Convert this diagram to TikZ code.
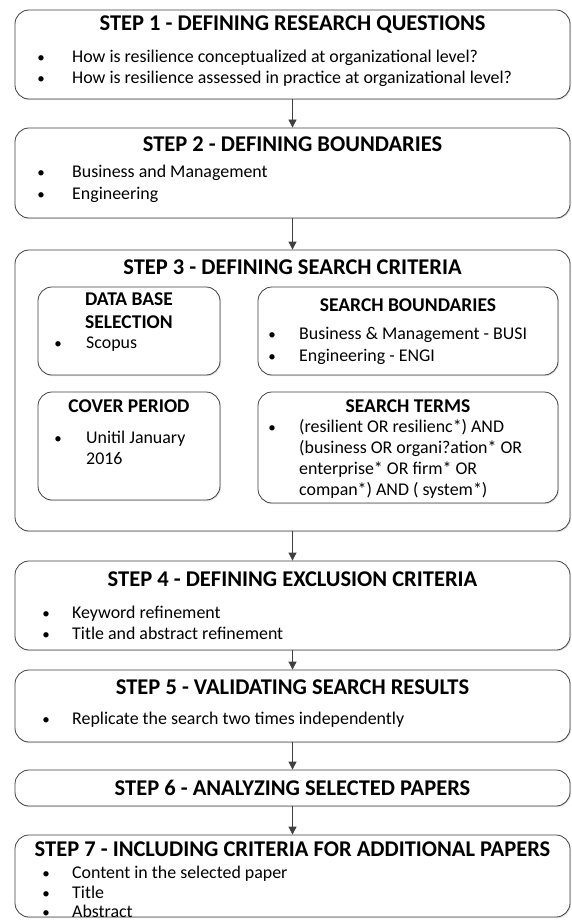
\documentclass[tikz,border=0pt]{standalone}
\usepackage{fontspec}
\setmainfont{Carlito}
\usetikzlibrary{arrows.meta,shadows}

\tikzset{
  stepbox/.style={draw=black!75, line width=0.8pt, rounded corners=14pt, fill=white,
    drop shadow={shadow xshift=1pt, shadow yshift=-1.2pt, opacity=0.25, fill=black!45},
    inner sep=0pt, minimum width=555pt},
  subbox/.style={stepbox},
  steptitle/.style={font=\fontsize{22.5}{26}\selectfont\bfseries, inner sep=0pt, anchor=base},
  subtitle/.style={font=\fontsize{19.5}{22}\selectfont\bfseries, inner sep=0pt, anchor=base},
  item/.style={font=\fontsize{17.9}{21}\selectfont, inner sep=0pt, anchor=base west},
  dot/.style={font=\fontsize{15}{18}\selectfont, inner sep=0pt, anchor=base},
  flow/.style={-{Triangle[length=8pt,width=8pt]}, draw=black!75, line width=0.8pt},
}

\begin{document}
\begin{tikzpicture}[x=1pt,y=-1pt]
  \useasboundingbox (0,0) rectangle (571,920);

  % boxes
  \node[stepbox, minimum height=89pt] (s1) at (292.5,54.5) {};
  \node[stepbox, minimum height=90pt] (s2) at (292.5,173) {};
  \node[stepbox, minimum height=281pt] (s3) at (292.5,390.5) {};
  \node[subbox, minimum width=182pt, minimum height=88pt] (db) at (129,331) {};
  \node[subbox, minimum width=300pt, minimum height=88pt] (sb) at (408,331) {};
  \node[subbox, minimum width=182pt, minimum height=108pt] (cp) at (129,446) {};
  \node[subbox, minimum width=300pt, minimum height=111pt] (st) at (408,447.5) {};
  \node[stepbox, minimum height=89pt] (s4) at (292.5,605.5) {};
  \node[stepbox, minimum height=72pt] (s5) at (292.5,706) {};
  \node[stepbox, minimum height=36pt] (s6) at (292.5,788) {};
  \node[stepbox, minimum height=82pt] (s7) at (292.5,876) {};

  % step 1
  \node[steptitle] (t1) at (292.5,31) {STEP 1 - DEFINING RESEARCH QUESTIONS};
  \node[dot] (d11) at (41,63) {\textbullet};
  \node[item] (i11) at (72,63) {How is resilience conceptualized at organizational level?};
  \node[dot] (d12) at (41,84) {\textbullet};
  \node[item] (i12) at (72,84) {How is resilience assessed in practice at organizational level?};

  % step 2
  \node[steptitle] (t2) at (292.5,152) {STEP 2 - DEFINING BOUNDARIES};
  \node[dot] (d21) at (41,178) {\textbullet};
  \node[item] (i21) at (72,178) {Business and Management};
  \node[dot] (d22) at (41,199) {\textbullet};
  \node[item] (i22) at (72,199) {Engineering};

  % step 3
  \node[steptitle] (t3) at (292.5,274) {STEP 3 - DEFINING SEARCH CRITERIA};
  \node[subtitle] (tdb1) at (129,305) {DATA BASE};
  \node[subtitle] (tdb2) at (129,328) {SELECTION};
  \node[dot] (ddb) at (58,348) {\textbullet};
  \node[item] (idb) at (86,348) {Scopus};
  \node[subtitle] (tsb) at (408,311) {SEARCH BOUNDARIES};
  \node[dot] (dsb1) at (272,339) {\textbullet};
  \node[item] (isb1) at (299,339) {Business \& Management - BUSI};
  \node[dot] (dsb2) at (272,361) {\textbullet};
  \node[item] (isb2) at (299,361) {Engineering - ENGI};
  \node[subtitle] (tcp) at (129,412) {COVER PERIOD};
  \node[dot] (dcp) at (58,443) {\textbullet};
  \node[item] (icp1) at (86,443) {Unitil January};
  \node[item] (icp2) at (86,464) {2016};
  \node[subtitle] (tst) at (408,412) {SEARCH TERMS};
  \node[dot] (dst) at (272,432) {\textbullet};
  \node[item] (ist1) at (299,432) {(resilient OR resilienc*) AND};
  \node[item] (ist2) at (299,453) {(business OR organi?ation* OR};
  \node[item] (ist3) at (299,474) {enterprise* OR firm* OR};
  \node[item] (ist4) at (299,495) {compan*) AND ( system*)};

  % step 4
  \node[steptitle] (t4) at (292.5,586) {STEP 4 - DEFINING EXCLUSION CRITERIA};
  \node[dot] (d41) at (46,618) {\textbullet};
  \node[item] (i41) at (72,618) {Keyword refinement};
  \node[dot] (d42) at (46,639) {\textbullet};
  \node[item] (i42) at (72,639) {Title and abstract refinement};

  % step 5
  \node[steptitle] (t5) at (292.5,694) {STEP 5 - VALIDATING SEARCH RESULTS};
  \node[dot] (d51) at (46,724) {\textbullet};
  \node[item] (i51) at (72,724) {Replicate the search two times independently};

  % step 6
  \node[steptitle] (t6) at (292.5,795) {STEP 6 - ANALYZING SELECTED PAPERS};

  % step 7
  \node[steptitle] (t7) at (292.5,856) {STEP 7 - INCLUDING CRITERIA FOR ADDITIONAL PAPERS};
  \node[dot] (d71) at (46,878) {\textbullet};
  \node[item] (i71) at (72,878) {Content in the selected paper};
  \node[dot] (d72) at (46,898) {\textbullet};
  \node[item] (i72) at (72,898) {Title};
  \node[dot] (d73) at (46,917) {\textbullet};
  \node[item] (i73) at (72,917) {Abstract};

  % arrows
  \draw[flow] (s1) -- (s2);
  \draw[flow] (s2) -- (s3);
  \draw[flow] (s3) -- (s4);
  \draw[flow] (s4) -- (s5);
  \draw[flow] (s5) -- (s6);
  \draw[flow] (s6) -- (s7);
\end{tikzpicture}
\end{document}
